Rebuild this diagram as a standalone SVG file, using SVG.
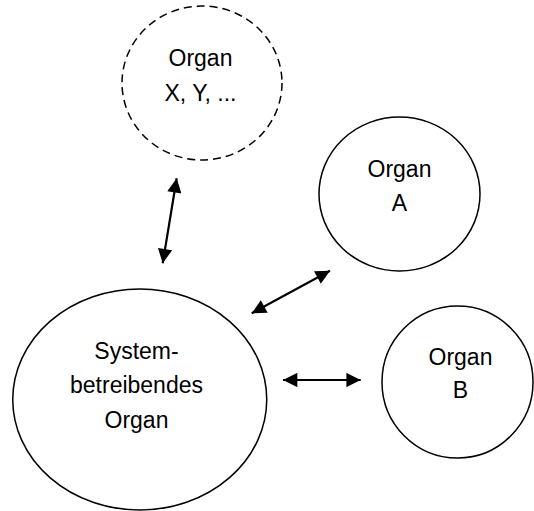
<svg xmlns="http://www.w3.org/2000/svg" width="534" height="511" viewBox="0 0 534 511">
<defs>
<marker id="ah" viewBox="0 0 10 10" refX="10" refY="5" markerWidth="7.5" markerHeight="6.5" markerUnits="strokeWidth" orient="auto-start-reverse">
<path d="M0,0 L10,5 L0,10 Z" fill="#000"/>
</marker>
</defs>
<style>
.n{fill:#fff;stroke:#000;stroke-width:1.5}
.d{stroke-dasharray:8,5}
.t{font-family:"Liberation Sans",Arial,sans-serif;font-size:23px;fill:#000;text-anchor:middle}
.c{stroke:#000;stroke-width:2.2;fill:none;marker-start:url(#ah);marker-end:url(#ah)}
</style>
<rect width="534" height="511" fill="#fff"/>
<g id="nodeX">
<ellipse class="n d" cx="202" cy="83" rx="80" ry="77"/>
<text class="t" x="200.5" y="66">Organ</text>
<text class="t" x="200.5" y="101">X, Y, ...</text>
</g>
<g id="nodeA">
<ellipse class="n" cx="399.5" cy="194" rx="80.5" ry="77"/>
<text class="t" x="399.5" y="177">Organ</text>
<text class="t" x="399.5" y="211">A</text>
</g>
<g id="nodeB">
<ellipse class="n" cx="457.5" cy="382" rx="75.5" ry="76"/>
<text class="t" x="460.5" y="365">Organ</text>
<text class="t" x="460.5" y="398">B</text>
</g>
<g id="nodeSys">
<ellipse class="n" cx="139.75" cy="399.5" rx="127" ry="110.5"/>
<text class="t" x="136.5" y="359">System-</text>
<text class="t" x="136.5" y="393">betreibendes</text>
<text class="t" x="136.5" y="428">Organ</text>
</g>
<g id="connectors">
<line class="c" x1="176.7" y1="178.3" x2="162.7" y2="263.3"/>
<line class="c" x1="330" y1="270.7" x2="251.7" y2="313.3"/>
<line class="c" x1="283" y1="380" x2="360.7" y2="380"/>
</g>
</svg>
